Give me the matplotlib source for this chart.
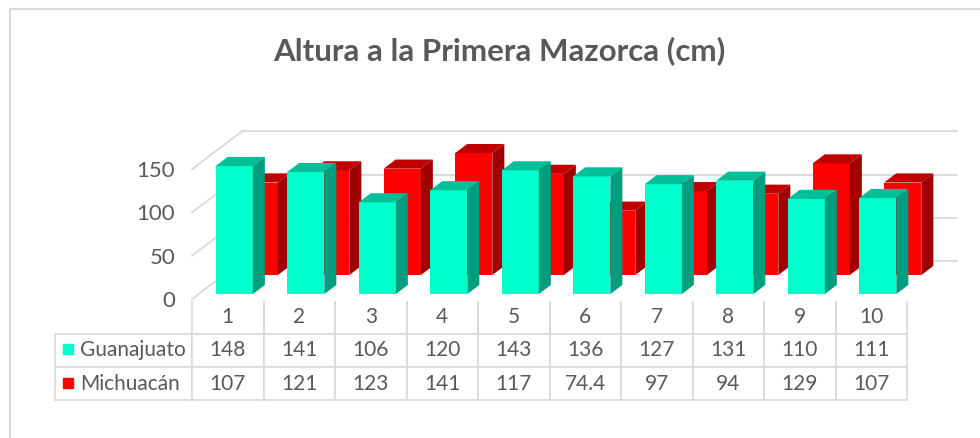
import matplotlib.pyplot as plt
from matplotlib.patches import Polygon, Rectangle

# Datos
categorias = [1, 2, 3, 4, 5, 6, 7, 8, 9, 10]
guanajuato = [148, 141, 106, 120, 143, 136, 127, 131, 110, 111]
michuacan = [107, 121, 123, 141, 117, 74.4, 97, 94, 129, 107]
series = ['Guanajuato', 'Michuacán']

# Colores (frente, arriba, lado)
col_gto = ('#00FFCC', '#00BF99', '#009E7E')
col_mich = ('#FF0000', '#C00000', '#A00000')
gris = '#595959'
linea = '#D9D9D9'

plt.rcParams['font.family'] = ['Lato', 'DejaVu Sans']

fig = plt.figure(figsize=(9.8, 4.38), dpi=100)
ax = fig.add_axes([192 / 980, (438 - 299) / 438, 715 / 980, 150 * 0.865 / 438])
ax.set_xlim(0.5, 10.5)
ax.set_ylim(0, 150)

# profundidad del "3D" en unidades de datos
DX = 50 / 71.5
DY = 38 / 0.865
ancho = 0.52
prof = 0.24

# Paredes: lineas de cuadricula laterales y del fondo
for v in [0, 50, 100, 150]:
    ax.plot([0.5, 0.5 + DX], [v, v + DY], color=linea, lw=1.3, clip_on=False, zorder=1)
    ax.plot([0.5 + DX, 10.5 + DX], [v + DY, v + DY], color=linea, lw=1.3,
            clip_on=False, zorder=1)


def barras_3d(valores, f, colores, z):
    ox, oy = f * DX, f * DY
    bdx, bdy = prof * DX, prof * DY
    xs = [c + ox for c in categorias]
    ax.bar(xs, valores, width=ancho, bottom=oy, color=colores[0],
           clip_on=False, zorder=z)
    for x, v in zip(xs, valores):
        xl, xr = x - ancho / 2, x + ancho / 2
        top = Polygon([(xl, oy + v), (xr, oy + v), (xr + bdx, oy + v + bdy),
                       (xl + bdx, oy + v + bdy)], closed=True,
                      facecolor=colores[1], edgecolor='none', clip_on=False, zorder=z)
        lado = Polygon([(xr, oy), (xr + bdx, oy + bdy), (xr + bdx, oy + v + bdy),
                        (xr, oy + v)], closed=True,
                       facecolor=colores[2], edgecolor='none', clip_on=False, zorder=z)
        ax.add_patch(top)
        ax.add_patch(lado)


barras_3d(michuacan, 0.63, col_mich, 2)
barras_3d(guanajuato, 0.13, col_gto, 3)

# Ejes
for s in ax.spines.values():
    s.set_visible(False)
ax.set_xticks([])
ax.set_yticks([0, 50, 100, 150])
ax.tick_params(axis='y', left=False, pad=8.6, labelsize=16, labelcolor=gris)
ax.set_facecolor('none')

# Tabla de datos
fmt = lambda v: f'{v:g}'
celdas = [[''] + [str(c) for c in categorias],
          [series[0]] + [fmt(v) for v in guanajuato],
          [series[1]] + [fmt(v) for v in michuacan]]
anchos = [137] + [71.5] * 10
anchos = [a / sum(anchos) for a in anchos]
tabla = ax.table(cellText=celdas, colWidths=anchos, cellLoc='center',
                 bbox=[(55 - 192) / 715, (299 - 400) / 129.75,
                       (907 - 55) / 715, 99 / 129.75])
tabla.auto_set_font_size(False)
tabla.set_fontsize(15)
for (r, c), cell in tabla.get_celld().items():
    cell.set_edgecolor(linea)
    cell.set_linewidth(1.2)
    cell.get_text().set_color(gris)
    if r == 0:
        cell.visible_edges = 'open' if c == 0 else 'LRB'
    if c == 0 and r > 0:
        cell._loc = 'left'
        cell.PAD = 0.18
        cell.get_text().set_horizontalalignment('left')

# cuadritos de leyenda
for yy, col in [(-0.389, col_gto[0]), (-0.651, col_mich[0])]:
    ax.plot([(68 - 192) / 715], [yy], marker='s', ms=7.2, color=col,
            transform=ax.transAxes, clip_on=False, linestyle='none')

# Titulo
fig.text(0.509, 1 - 51 / 438, 'Altura a la Primera Mazorca (cm)', ha='center',
         va='center', fontsize=22.5, fontweight='bold', color=gris)

# marco del grafico
fig.patches.append(Rectangle((10 / 980, -0.1), 2, 1 - 9 / 438 + 0.1,
                             transform=fig.transFigure, fill=False,
                             edgecolor=linea, lw=1.5))

fig.savefig('out.png', dpi=100)
